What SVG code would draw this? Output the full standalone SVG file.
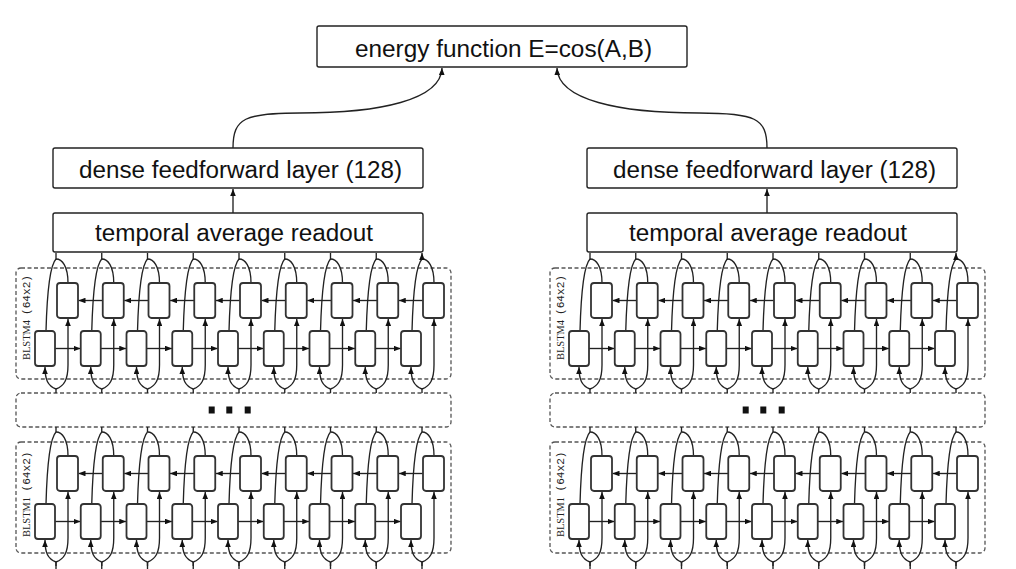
<svg xmlns="http://www.w3.org/2000/svg" xmlns:xlink="http://www.w3.org/1999/xlink" width="1016" height="569" viewBox="0 0 1016 569">
<style>
.box{fill:#fff;stroke:#222;stroke-width:1.4}
.dash{fill:none;stroke:#555;stroke-width:1.3;stroke-dasharray:4 2.5}
.cell{fill:#fff;stroke:#333;stroke-width:1.8}
.w{fill:none;stroke:#222;stroke-width:1.35}
.a{marker-end:url(#ah)}
.t{font-family:"Liberation Sans",Arial,sans-serif;font-size:23.5px;fill:#111}
.lb{font-family:"Liberation Serif","Times New Roman",serif;font-size:10.5px;fill:#222}
.lm{font-family:"Liberation Mono","Courier New",monospace;font-size:10.5px;fill:#222}
.dot{fill:#111}
</style>
<defs>
<marker id="ah" viewBox="0 0 10 8" refX="10" refY="4" markerWidth="7" markerHeight="5.6" markerUnits="userSpaceOnUse" orient="auto"><path d="M0,0 L10,4 L0,8 z" fill="#111"/></marker>
<g id="colw">
<path class="w" d="M0,393 V389"/>
<path class="w a" d="M0,389 C-8,386 -11,380 -11,367"/>
<path class="w a" d="M0,389 C8,386 12,380 12,365 L12,319"/>
<path class="w" d="M-10,331 C-9,295 -6,265 0,259"/>
<path class="w" d="M12,283 C12,266 6,259 0,259"/>
</g>
<g id="harr">
<path class="w a" d="M-1,348.5 H24.5"/>
<path class="w a" d="M46.5,300.5 H22.5"/>
</g>
<g id="cellp">
<rect class="cell" x="-21" y="331" width="20" height="35" rx="3"/>
<rect class="cell" x="1" y="283" width="21" height="35" rx="3"/>
</g>
<g id="wires9">
<use xlink:href="#colw" x="56"/><use xlink:href="#colw" x="101.75"/><use xlink:href="#colw" x="147.5"/>
<use xlink:href="#colw" x="193.25"/><use xlink:href="#colw" x="239"/><use xlink:href="#colw" x="284.75"/>
<use xlink:href="#colw" x="330.5"/><use xlink:href="#colw" x="376.25"/><use xlink:href="#colw" x="422"/>
<use xlink:href="#harr" x="56"/><use xlink:href="#harr" x="101.75"/><use xlink:href="#harr" x="147.5"/>
<use xlink:href="#harr" x="193.25"/><use xlink:href="#harr" x="239"/><use xlink:href="#harr" x="284.75"/>
<use xlink:href="#harr" x="330.5"/><use xlink:href="#harr" x="376.25"/>
</g>
<g id="cells9">
<use xlink:href="#cellp" x="56"/><use xlink:href="#cellp" x="101.75"/><use xlink:href="#cellp" x="147.5"/>
<use xlink:href="#cellp" x="193.25"/><use xlink:href="#cellp" x="239"/><use xlink:href="#cellp" x="284.75"/>
<use xlink:href="#cellp" x="330.5"/><use xlink:href="#cellp" x="376.25"/><use xlink:href="#cellp" x="422"/>
</g>
<g id="stemA">
<path class="w a" d="M56,260 V253 M101.75,260 V253 M147.5,260 V253 M193.25,260 V253 M239,260 V253 M284.75,260 V253 M330.5,260 V253 M376.25,260 V253 M422,260 V253"/>
</g>
<g id="stemB">
<path class="w" d="M56,432 V427 M101.75,432 V427 M147.5,432 V427 M193.25,432 V427 M239,432 V427 M284.75,432 V427 M330.5,432 V427 M376.25,432 V427 M422,432 V427"/>
<path class="w" d="M56,569 V562 M101.75,569 V562 M147.5,569 V562 M193.25,569 V562 M239,569 V562 M284.75,569 V562 M330.5,569 V562 M376.25,569 V562 M422,569 V562"/>
</g>
</defs>
<rect width="1016" height="569" fill="#fff"/>

<g id="blstm4-left-frame"><rect class="dash" x="16" y="268" width="435" height="111" rx="5"/></g>
<g id="dots-left-frame"><rect class="dash" x="16" y="393" width="435" height="34" rx="5"/></g>
<g id="blstm1-left-frame"><rect class="dash" x="16" y="442" width="435" height="111" rx="5"/></g>
<g id="blstm4-right-frame"><rect class="dash" x="550" y="268" width="435" height="111" rx="5"/></g>
<g id="dots-right-frame"><rect class="dash" x="550" y="393" width="435" height="34" rx="5"/></g>
<g id="blstm1-right-frame"><rect class="dash" x="550" y="442" width="435" height="111" rx="5"/></g>

<g id="connectors">
<use xlink:href="#wires9"/>
<use xlink:href="#wires9" y="173"/>
<use xlink:href="#wires9" x="534"/>
<use xlink:href="#wires9" x="534" y="173"/>
<use xlink:href="#stemA"/>
<use xlink:href="#stemA" x="534"/>
<use xlink:href="#stemB"/>
<use xlink:href="#stemB" x="534"/>
<path class="w a" d="M233,213 V189"/>
<path class="w a" d="M767,213 V189"/>
<path class="w a" d="M233,148 C233,118 245,113 300,113 C380,113 441,100 442,68"/>
<path class="w a" d="M767,148 C767,118 755,113 699,113 C619,113 558,100 557,68"/>
</g>

<g id="energy">
<rect class="box" x="317" y="26" width="370" height="41" rx="2"/>
<text class="t" x="355" y="56.5" textLength="297" lengthAdjust="spacingAndGlyphs">energy function E=cos(A,B)</text>
</g>
<g id="dense-left">
<rect class="box" x="53" y="148" width="370" height="40" rx="2"/>
<text class="t" x="79" y="177.5" textLength="323" lengthAdjust="spacingAndGlyphs">dense feedforward layer (128)</text>
</g>
<g id="readout-left">
<rect class="box" x="53" y="213" width="370" height="39" rx="2"/>
<text class="t" x="95" y="240.5" textLength="278" lengthAdjust="spacingAndGlyphs">temporal average readout</text>
</g>
<g id="dense-right">
<rect class="box" x="587" y="148" width="370" height="40" rx="2"/>
<text class="t" x="613" y="177.5" textLength="323" lengthAdjust="spacingAndGlyphs">dense feedforward layer (128)</text>
</g>
<g id="readout-right">
<rect class="box" x="587" y="213" width="370" height="39" rx="2"/>
<text class="t" x="629" y="240.5" textLength="278" lengthAdjust="spacingAndGlyphs">temporal average readout</text>
</g>

<g id="blstm4-left">
<use xlink:href="#cells9"/>
<text class="lb" transform="translate(29.5,360) rotate(-90)" textLength="40" lengthAdjust="spacingAndGlyphs">BLSTM4</text>
<text class="lm" transform="translate(29.5,315) rotate(-90)" textLength="40" lengthAdjust="spacingAndGlyphs">(64x2)</text>
</g>
<g id="blstm1-left">
<use xlink:href="#cells9" y="173"/>
<text class="lb" transform="translate(29.5,537) rotate(-90)" textLength="40" lengthAdjust="spacingAndGlyphs">BLSTM1</text>
<text class="lm" transform="translate(29.5,491.5) rotate(-90)" textLength="40" lengthAdjust="spacingAndGlyphs">(64x2)</text>
</g>
<g id="dots-left">
<rect class="dot" x="208.7" y="406.5" width="6" height="7"/>
<rect class="dot" x="226.3" y="406.5" width="6" height="7"/>
<rect class="dot" x="244.7" y="406.5" width="6" height="7"/>
</g>
<g id="blstm4-right">
<use xlink:href="#cells9" x="534"/>
<text class="lb" transform="translate(563.5,360) rotate(-90)" textLength="40" lengthAdjust="spacingAndGlyphs">BLSTM4</text>
<text class="lm" transform="translate(563.5,315) rotate(-90)" textLength="40" lengthAdjust="spacingAndGlyphs">(64x2)</text>
</g>
<g id="blstm1-right">
<use xlink:href="#cells9" x="534" y="173"/>
<text class="lb" transform="translate(563.5,537) rotate(-90)" textLength="40" lengthAdjust="spacingAndGlyphs">BLSTM1</text>
<text class="lm" transform="translate(563.5,491.5) rotate(-90)" textLength="40" lengthAdjust="spacingAndGlyphs">(64x2)</text>
</g>
<g id="dots-right">
<rect class="dot" x="742.7" y="406.5" width="6" height="7"/>
<rect class="dot" x="760.3" y="406.5" width="6" height="7"/>
<rect class="dot" x="778.7" y="406.5" width="6" height="7"/>
</g>
</svg>
